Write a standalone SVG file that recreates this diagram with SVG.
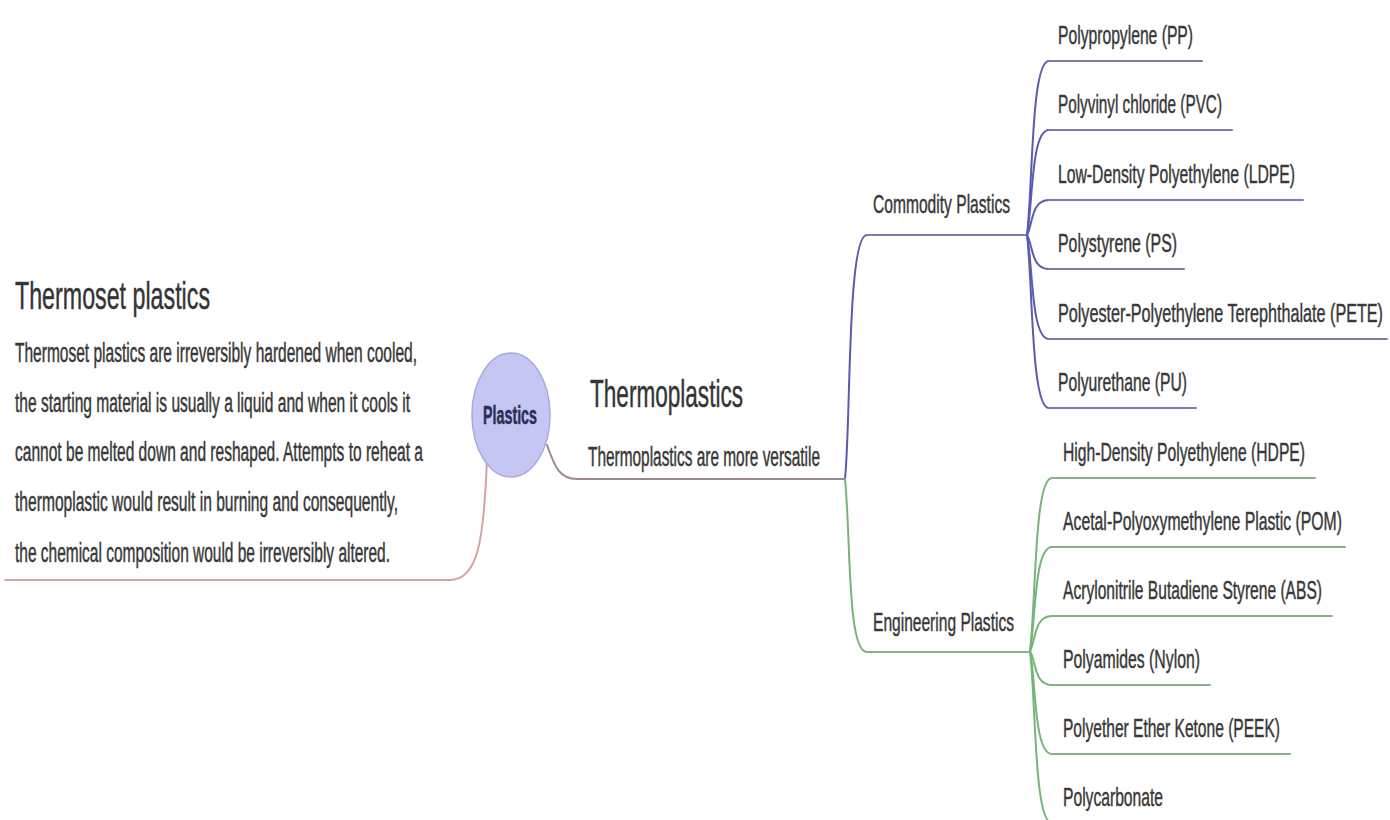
<svg xmlns="http://www.w3.org/2000/svg" width="1390" height="820" viewBox="0 0 1390 820">
<style>
  text { font-family: "Liberation Sans", Arial, sans-serif; fill: #353535; stroke: #444; stroke-width: 0.3px; }
  .title { font-size: 23px; fill: #333; }
  .body { font-size: 15.5px; }
  .item { font-size: 15.8px; }
  .sub { font-size: 15.6px; }
  .root { font-size: 14.3px; font-weight: bold; fill: #2e2e55; stroke: #2e2e55; text-anchor: middle; }
  .c { fill: none; stroke-width: 2; stroke-linecap: round; }
  .red { stroke: #d4a4a4; }
  .mauve { stroke: #9a8890; }
  .blue { stroke: #5a5ab0; }
  .blueU { stroke: #7c7cae; }
  .green { stroke: #78b478; }
  .greenU { stroke: #8eac8e; }
</style>
<rect width="1390" height="820" fill="#ffffff"/>

<g id="connectors">
  <path class="c red" d="M487,458 C484,540 478,580 450,580 H5"/>
  <path class="c mauve" d="M547,445 C555,468 560,479 577,479 H845"/>
  <path class="c blue" d="M845,479 C851,420 847,235 867,235"/>
  <path class="c blueU" d="M867,235 H1027"/>
  <path class="c green" d="M845,479 C851,540 847,652 867,652"/>
  <path class="c greenU" d="M867,652 H1030"/>

  <path class="c blue" d="M1027,235 C1033,183 1031,61 1049,61"/><path class="c blueU" d="M1049,61 H1202"/>
  <path class="c blue" d="M1027,235 C1033,203 1031,130 1049,130"/><path class="c blueU" d="M1049,130 H1232"/>
  <path class="c blue" d="M1027,235 C1033,224 1031,200 1049,200"/><path class="c blueU" d="M1049,200 H1303"/>
  <path class="c blue" d="M1027,235 C1033,245 1031,269 1049,269"/><path class="c blueU" d="M1049,269 H1184"/>
  <path class="c blue" d="M1027,235 C1033,266 1031,339 1049,339"/><path class="c blueU" d="M1049,339 H1387"/>
  <path class="c blue" d="M1027,235 C1033,287 1031,408 1049,408"/><path class="c blueU" d="M1049,408 H1196"/>

  <path class="c green" d="M1030,651 C1036,603 1034,478 1052,478"/><path class="c greenU" d="M1052,478 H1315"/>
  <path class="c green" d="M1030,651 C1036,619 1034,547 1052,547"/><path class="c greenU" d="M1052,547 H1345"/>
  <path class="c green" d="M1030,651 C1036,640 1034,616 1052,616"/><path class="c greenU" d="M1052,616 H1332"/>
  <path class="c green" d="M1030,651 C1036,661 1034,685 1052,685"/><path class="c greenU" d="M1052,685 H1210"/>
  <path class="c green" d="M1030,651 C1036,682 1034,754 1052,754"/><path class="c greenU" d="M1052,754 H1290"/>
  <path class="c green" d="M1030,651 C1036,703 1034,823 1052,823"/><path class="c greenU" d="M1052,823 H1170"/>
</g>

<g id="node-thermoset">
  <text class="title" transform="matrix(1,0,0,1.7,15,309)" textLength="195" lengthAdjust="spacingAndGlyphs">Thermoset plastics</text>
  <text class="body" transform="matrix(1,0,0,1.74,15,362)" textLength="402" lengthAdjust="spacingAndGlyphs">Thermoset plastics are irreversibly hardened when cooled,</text>
  <text class="body" transform="matrix(1,0,0,1.74,15,412)" textLength="395" lengthAdjust="spacingAndGlyphs">the starting material is usually a liquid and when it cools it</text>
  <text class="body" transform="matrix(1,0,0,1.74,15,461)" textLength="408" lengthAdjust="spacingAndGlyphs">cannot be melted down and reshaped. Attempts to reheat a</text>
  <text class="body" transform="matrix(1,0,0,1.74,15,511)" textLength="383" lengthAdjust="spacingAndGlyphs">thermoplastic would result in burning and consequently,</text>
  <text class="body" transform="matrix(1,0,0,1.74,15,562)" textLength="375" lengthAdjust="spacingAndGlyphs">the chemical composition would be irreversibly altered.</text>
</g>

<g id="node-plastics">
  <ellipse cx="511" cy="415" rx="39" ry="62" fill="#c6c6f3" stroke="#a9a9e2" stroke-width="1.5"/>
  <text class="root" transform="matrix(1,0,0,1.82,510,424)" textLength="54" lengthAdjust="spacingAndGlyphs">Plastics</text>
</g>

<g id="node-thermoplastics">
  <text class="title" transform="matrix(1,0,0,1.7,590,407)" textLength="153" lengthAdjust="spacingAndGlyphs">Thermoplastics</text>
  <text class="body" transform="matrix(1,0,0,1.74,588,466)" textLength="232" lengthAdjust="spacingAndGlyphs">Thermoplastics are more versatile</text>
</g>

<g id="node-commodity">
  <text class="sub" transform="matrix(1,0,0,1.67,873,213)" textLength="137" lengthAdjust="spacingAndGlyphs">Commodity Plastics</text>
</g>
<g id="node-engineering">
  <text class="sub" transform="matrix(1,0,0,1.67,873,631)" textLength="141" lengthAdjust="spacingAndGlyphs">Engineering Plastics</text>
</g>

<g id="node-pp"><text class="item" transform="matrix(1,0,0,1.58,1058,44)" textLength="135" lengthAdjust="spacingAndGlyphs">Polypropylene (PP)</text></g>
<g id="node-pvc"><text class="item" transform="matrix(1,0,0,1.58,1058,113)" textLength="164" lengthAdjust="spacingAndGlyphs">Polyvinyl chloride (PVC)</text></g>
<g id="node-ldpe"><text class="item" transform="matrix(1,0,0,1.58,1058,183)" textLength="237" lengthAdjust="spacingAndGlyphs">Low-Density Polyethylene (LDPE)</text></g>
<g id="node-ps"><text class="item" transform="matrix(1,0,0,1.58,1058,252)" textLength="119" lengthAdjust="spacingAndGlyphs">Polystyrene (PS)</text></g>
<g id="node-pete"><text class="item" transform="matrix(1,0,0,1.58,1058,322)" textLength="325" lengthAdjust="spacingAndGlyphs">Polyester-Polyethylene Terephthalate (PETE)</text></g>
<g id="node-pu"><text class="item" transform="matrix(1,0,0,1.58,1058,391)" textLength="129" lengthAdjust="spacingAndGlyphs">Polyurethane (PU)</text></g>

<g id="node-hdpe"><text class="item" transform="matrix(1,0,0,1.58,1063,461)" textLength="242" lengthAdjust="spacingAndGlyphs">High-Density Polyethylene (HDPE)</text></g>
<g id="node-pom"><text class="item" transform="matrix(1,0,0,1.58,1063,530)" textLength="279" lengthAdjust="spacingAndGlyphs">Acetal-Polyoxymethylene Plastic (POM)</text></g>
<g id="node-abs"><text class="item" transform="matrix(1,0,0,1.58,1063,599)" textLength="259" lengthAdjust="spacingAndGlyphs">Acrylonitrile Butadiene Styrene (ABS)</text></g>
<g id="node-nylon"><text class="item" transform="matrix(1,0,0,1.58,1063,668)" textLength="137" lengthAdjust="spacingAndGlyphs">Polyamides (Nylon)</text></g>
<g id="node-peek"><text class="item" transform="matrix(1,0,0,1.58,1063,737)" textLength="217" lengthAdjust="spacingAndGlyphs">Polyether Ether Ketone (PEEK)</text></g>
<g id="node-pc"><text class="item" transform="matrix(1,0,0,1.58,1063,806)" textLength="100" lengthAdjust="spacingAndGlyphs">Polycarbonate</text></g>
</svg>
